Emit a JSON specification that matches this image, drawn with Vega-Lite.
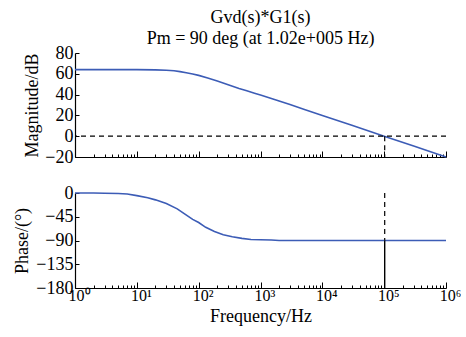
{
  "$schema": "https://vega.github.io/schema/vega-lite/v6.json",
  "padding": {"left": 13, "top": 9, "right": 0, "bottom": 2},
  "background": "white",
  "bounds": "flush",
  "spacing": 36,
  "config": {
    "font": "Liberation Serif",
    "view": {"stroke": null},
    "axis": {
      "grid": false,
      "domainColor": "black",
      "domainWidth": 1.2,
      "tickColor": "black",
      "tickWidth": 1,
      "labelColor": "black",
      "titleColor": "black",
      "labelFont": "Liberation Serif",
      "titleFont": "Liberation Serif",
      "titleFontSize": 18,
      "titleFontWeight": "normal",
      "labelOverlap": false
    }
  },
  "datasets": {
    "mag": [
      {"f": 1, "db": 64}, {"f": 5, "db": 64}, {"f": 10, "db": 64}, {"f": 20, "db": 63.8},
      {"f": 30, "db": 63.4}, {"f": 40, "db": 62.9}, {"f": 50, "db": 62.1}, {"f": 63, "db": 61},
      {"f": 80, "db": 59.8}, {"f": 100, "db": 58.5}, {"f": 140, "db": 56}, {"f": 200, "db": 53},
      {"f": 300, "db": 49.4}, {"f": 450, "db": 45.9}, {"f": 600, "db": 43.6}, {"f": 800, "db": 41.3},
      {"f": 1000, "db": 39.6}, {"f": 1500, "db": 36.3}, {"f": 2000, "db": 33.9}, {"f": 3000, "db": 30.4},
      {"f": 5000, "db": 26}, {"f": 10000, "db": 20}, {"f": 30000, "db": 10.5}, {"f": 100000, "db": 0},
      {"f": 300000, "db": -9.5}, {"f": 1000000, "db": -20}
    ],
    "phase": [
      {"f": 1, "deg": 0}, {"f": 2, "deg": 0}, {"f": 3, "deg": -0.5}, {"f": 5, "deg": -1},
      {"f": 7, "deg": -2}, {"f": 10, "deg": -5}, {"f": 15, "deg": -9}, {"f": 20, "deg": -13},
      {"f": 30, "deg": -20}, {"f": 45, "deg": -30}, {"f": 60, "deg": -40}, {"f": 80, "deg": -50},
      {"f": 100, "deg": -56}, {"f": 130, "deg": -65}, {"f": 180, "deg": -73}, {"f": 250, "deg": -79},
      {"f": 350, "deg": -83}, {"f": 500, "deg": -86}, {"f": 700, "deg": -88}, {"f": 1000, "deg": -88.5},
      {"f": 1500, "deg": -89}, {"f": 2000, "deg": -90}, {"f": 10000, "deg": -90}, {"f": 100000, "deg": -90},
      {"f": 1000000, "deg": -90}
    ]
  },
  "vconcat": [
    {
      "width": 371,
      "height": 104,
      "title": {
        "text": ["Gvd(s)*G1(s)", "Pm = 90 deg (at 1.02e+005 Hz)"],
        "font": "Liberation Serif",
        "fontSize": 18,
        "fontWeight": "normal",
        "color": "black",
        "frame": "group",
        "anchor": "middle",
        "offset": -4,
        "lineHeight": 21
      },
      "layer": [
        {
          "data": {"name": "mag"},
          "mark": {"type": "line", "color": "#3c5cb6", "strokeWidth": 1.6},
          "encoding": {
            "x": {
              "field": "f", "type": "quantitative",
              "scale": {"type": "log", "domain": [1, 1000000], "nice": false},
              "axis": {
                "orient": "bottom",
                "values": [1,2,3,4,5,6,7,8,9,10,20,30,40,50,60,70,80,90,100,200,300,400,500,600,700,800,900,1000,2000,3000,4000,5000,6000,7000,8000,9000,10000,20000,30000,40000,50000,60000,70000,80000,90000,100000,200000,300000,400000,500000,600000,700000,800000,900000,1000000],
                "tickCount": 100,
                "labels": false,
                "tickSize": {"condition": {"test": "indexof([1,10,100,1000,10000,100000,1000000], datum.value) >= 0", "value": -6}, "value": -3},
                "title": null
              }
            },
            "y": {
              "field": "db", "type": "quantitative",
              "scale": {"domain": [-20, 80], "nice": false, "zero": false},
              "axis": {"values": [-20, 0, 20, 40, 60, 80], "tickCount": 20, "labelFontSize": 18, "tickSize": -4, "labelPadding": 6, "title": "Magnitude/dB", "titlePadding": 3}
            }
          }
        },
        {
          "data": {"values": [{"db": 0}]},
          "mark": {"type": "rule", "color": "black", "strokeWidth": 1.2, "strokeDash": [5, 4]},
          "encoding": {"y": {"field": "db", "type": "quantitative"}}
        },
        {
          "data": {"values": [{"f": 102000, "a": 0, "b": -20}]},
          "mark": {"type": "rule", "color": "black", "strokeWidth": 1.2, "strokeDash": [5, 4]},
          "encoding": {
            "x": {"field": "f", "type": "quantitative"},
            "y": {"field": "a", "type": "quantitative"},
            "y2": {"field": "b"}
          }
        }
      ]
    },
    {
      "width": 371,
      "height": 95,
      "layer": [
        {
          "data": {"name": "phase"},
          "mark": {"type": "line", "color": "#3c5cb6", "strokeWidth": 1.6},
          "encoding": {
            "x": {
              "field": "f", "type": "quantitative",
              "scale": {"type": "log", "domain": [1, 1000000], "nice": false},
              "axis": {
                "orient": "bottom",
                "values": [1,2,3,4,5,6,7,8,9,10,20,30,40,50,60,70,80,90,100,200,300,400,500,600,700,800,900,1000,2000,3000,4000,5000,6000,7000,8000,9000,10000,20000,30000,40000,50000,60000,70000,80000,90000,100000,200000,300000,400000,500000,600000,700000,800000,900000,1000000],
                "tickCount": 100,
                "tickSize": {"condition": {"test": "indexof([1,10,100,1000,10000,100000,1000000], datum.value) >= 0", "value": -6}, "value": -3},
                "labelPadding": 5,
                "labelFontSize": 16,
                "labelFlush": false,
                "labelOffset": 4,
                "title": "Frequency/Hz",
                "titlePadding": 1,
                "labelExpr": "datum.value == 1 ? '10⁰' : datum.value == 10 ? '10¹' : datum.value == 100 ? '10²' : datum.value == 1000 ? '10³' : datum.value == 10000 ? '10⁴' : datum.value == 100000 ? '10⁵' : datum.value == 1000000 ? '10⁶' : ''"
              }
            },
            "y": {
              "field": "deg", "type": "quantitative",
              "scale": {"domain": [-180, 0], "nice": false, "zero": false},
              "axis": {"values": [-180, -135, -90, -45, 0], "tickCount": 20, "labelFontSize": 18, "tickSize": -4, "labelPadding": 6, "title": "Phase/(°)", "titlePadding": 4}
            }
          }
        },
        {
          "data": {"values": [{"f": 102000, "a": 0, "b": -90}]},
          "mark": {"type": "rule", "color": "black", "strokeWidth": 1.2, "strokeDash": [5, 4]},
          "encoding": {
            "x": {"field": "f", "type": "quantitative"},
            "y": {"field": "a", "type": "quantitative"},
            "y2": {"field": "b"}
          }
        },
        {
          "data": {"values": [{"f": 102000, "a": -90, "b": -180}]},
          "mark": {"type": "rule", "color": "black", "strokeWidth": 1.4},
          "encoding": {
            "x": {"field": "f", "type": "quantitative"},
            "y": {"field": "a", "type": "quantitative"},
            "y2": {"field": "b"}
          }
        }
      ]
    }
  ]
}
